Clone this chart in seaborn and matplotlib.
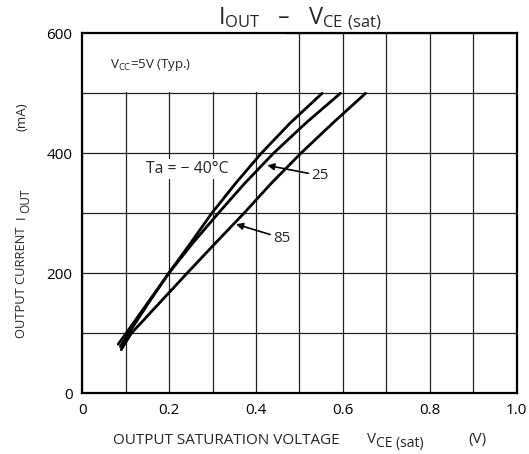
import matplotlib
matplotlib.use("Agg")
import matplotlib.pyplot as plt
from matplotlib.patches import Rectangle
import seaborn as sns
import pandas as pd

sns.set_style("white")
plt.rcParams['font.family'] = ['Open Sans', 'DejaVu Sans']
plt.rcParams['mathtext.default'] = 'regular'

# Data
vce_m40 = [0.083, 0.101, 0.150, 0.199, 0.249, 0.298, 0.353, 0.412, 0.478, 0.552]
iout_m40 = [82, 100, 150, 200, 250, 300, 350, 400, 450, 500]
vce_25 = [0.088, 0.107, 0.152, 0.199, 0.254, 0.313, 0.374, 0.440, 0.514, 0.594]
iout_25 = [78, 100, 150, 200, 250, 300, 350, 400, 450, 500]
vce_85 = [0.090, 0.113, 0.177, 0.241, 0.306, 0.372, 0.435, 0.503, 0.576, 0.652]
iout_85 = [73, 100, 150, 200, 250, 300, 350, 400, 450, 500]
temps = ["-40", "25", "85"]

df = pd.concat([
    pd.DataFrame({"vce": vce_m40, "iout": iout_m40, "Ta": temps[0]}),
    pd.DataFrame({"vce": vce_25, "iout": iout_25, "Ta": temps[1]}),
    pd.DataFrame({"vce": vce_85, "iout": iout_85, "Ta": temps[2]}),
])

W, H = 529, 454
fig = plt.figure(figsize=(W / 100, H / 100), dpi=100)
ax = fig.add_axes([0.1552, 0.1333, 0.8218, 0.7934])

sns.lineplot(data=df, x="vce", y="iout", hue="Ta", palette=["black"] * 3,
             estimator=None, sort=False, linewidth=2.0, legend=False, ax=ax, zorder=3)

ax.set_xlim(0, 1.0)
ax.set_ylim(0, 600)
ax.set_xticks([0, 0.2, 0.4, 0.6, 0.8, 1.0])
ax.set_xticklabels(["0", "0.2", "0.4", "0.6", "0.8", "1.0"])
ax.set_yticks([0, 200, 400, 600])
ax.set_xticks([i / 10 for i in range(11)], minor=True)
ax.set_yticks([i * 100 for i in range(7)], minor=True)
ax.grid(True, which="both", color="#222222", linewidth=0.9)
ax.set_axisbelow(True)
ax.tick_params(axis="both", which="both", length=0, labelsize=11, colors="black", pad=7)
for s in ax.spines.values():
    s.set_color("black")
    s.set_linewidth(1.6)
ax.set_xlabel("")
ax.set_ylabel("")

# white text area in top-left band
ax.add_patch(Rectangle((0.0, 502), 0.47, 98, facecolor="white", edgecolor="none", zorder=0.8))

ax.text(0.065, 542, r"V$_{CC}$=5V (Typ.)", fontsize=9.5, zorder=4)
ax.text(0.147, 368, "Ta = − 40°C", fontsize=11.3, zorder=4,
        bbox=dict(facecolor="white", edgecolor="none", pad=1.5))
ax.annotate("25", xy=(0.426, 380), xytext=(0.528, 357), fontsize=11, zorder=4,
            arrowprops=dict(arrowstyle="-|>", color="black", lw=1.2, mutation_scale=10,
                            shrinkA=0, shrinkB=0))
ax.annotate("85", xy=(0.354, 282), xytext=(0.44, 253), fontsize=11, zorder=4,
            arrowprops=dict(arrowstyle="-|>", color="black", lw=1.2, mutation_scale=10,
                            shrinkA=0, shrinkB=0))

ax.set_title(r"I$_{OUT}$   –   V$_{CE\ (sat)}$", fontsize=17, pad=6)


def ftext(px, py, s, size, rot=0):
    fig.text(px / W, 1 - py / H, s, fontsize=size, rotation=rot,
             rotation_mode="anchor", ha="left", va="baseline")


# x-axis label pieces
ftext(113, 444, "OUTPUT SATURATION VOLTAGE", 11)
ftext(367, 443, "V", 11)
ftext(376, 447, "CE (sat)", 10)
ftext(468, 443, "(V)", 11)

# y-axis label pieces
ftext(25, 338, "OUTPUT CURRENT", 9.3, rot=90)
ftext(25, 219, "I", 9.6, rot=90)
ftext(29, 213, "OUT", 8.6, rot=90)
ftext(25, 131, "(mA)", 9.6, rot=90)

fig.savefig("out.png", dpi=100)
